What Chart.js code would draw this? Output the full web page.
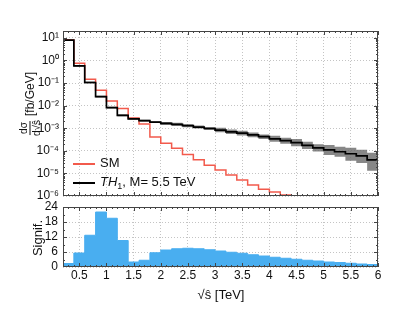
<!DOCTYPE html>
<html>
<head>
<meta charset="utf-8">
<script src="https://cdn.jsdelivr.net/npm/chart.js@4.4.1/dist/chart.umd.min.js"></script>
<style>
    html, body { margin: 0; padding: 0; background: #fff; }
    #wrap { position: relative; width: 420px; height: 315px; font-family: 'Liberation Sans', Arial, sans-serif; color: #111; }
    #top { position: absolute; left: 0; top: 0; }
    #bot { position: absolute; left: 0; top: 200px; }
    .legend { position: absolute; left: 73px; font-size: 13px; line-height: 16px; white-space: nowrap; }
    .legend .swatch { display: inline-block; width: 22px; height: 2px; vertical-align: middle; margin-right: 5px; }
    .legend sub { font-size: 9px; line-height: 0; vertical-align: -3px; }
    .title { position: absolute; white-space: nowrap; font-size: 12px; line-height: 13px; display: flex; align-items: center; }
    .rot { transform: translate(-50%, -50%) rotate(-90deg); }
    .hor { transform: translate(-50%, -50%); }
    .frac { display: inline-flex; flex-direction: column; align-items: center; font-size: 10px; line-height: 10px; margin-right: 4px; }
    .frac .num { border-bottom: 0.8px solid #111; padding: 0 1px 1px; }
    .frac .den { padding-top: 1px; }
</style>
</head>
<body>
<div id="wrap">
    <canvas id="top" width="420" height="200"></canvas>
    <canvas id="bot" width="420" height="115"></canvas>
    <div class="legend" style="top:155px"><span class="swatch" style="background:#f25a4c"></span>SM</div>
    <div class="legend" style="top:174px"><span class="swatch" style="background:#000"></span><i>TH</i><sub>1</sub>, M= 5.5 TeV</div>
    <div class="title rot" style="left:30px; top:104px"><span class="frac"><span class="num">dσ</span><span class="den">d√ŝ</span></span>[fb/GeV]</div>
    <div class="title rot" style="left:37px; top:238px; font-size:13px">Signif.</div>
    <div class="title hor" style="left:221px; top:294px; font-size:13px">√ŝ [TeV]</div>
</div>
<script>
// bin edges in sqrt(s) [TeV]
const binEdges = [0.2, 0.4, 0.6, 0.8, 1.0, 1.2, 1.4, 1.6, 1.8, 2.0, 2.2, 2.4, 2.6, 2.8, 3.0,
                  3.2, 3.4, 3.6, 3.8, 4.0, 4.2, 4.4, 4.6, 4.8, 5.0, 5.2, 5.4, 5.6, 5.8, 6.0];

// dsigma/dsqrt(s) [fb/GeV], one value per bin
const smXsec = [8.0, 0.74, 0.148, 0.048, 0.016, 7.4e-3, 2.8e-3, 1.54e-3, 4.1e-4, 2.15e-4,
                1.29e-4, 6.9e-5, 4.0e-5, 2.3e-5, 1.43e-5, 8.6e-6, 5.1e-6, 3.1e-6, 2.0e-6, 1.5e-6,
                1.1e-6, 7e-7, 5e-7, 3.5e-7, 2.5e-7, 1.8e-7, 1.3e-7, 9e-8, 6e-8];
const th1Xsec = [7.9, 0.575, 0.105, 0.025, 8.1e-3, 3.7e-3, 2.6e-3, 2.15e-3, 1.86e-3, 1.63e-3,
                 1.48e-3, 1.29e-3, 1.12e-3, 9.7e-4, 8.3e-4, 6.9e-4, 6.1e-4, 5.1e-4, 4.2e-4, 3.4e-4,
                 2.8e-4, 2.3e-4, 1.74e-4, 1.35e-4, 1.09e-4, 9.1e-5, 7.4e-5, 6.0e-5, 4.0e-5];
const th1Upper = [8.7, 0.63, 0.116, 0.0275, 8.9e-3, 4.1e-3, 2.9e-3, 2.37e-3, 2.05e-3, 1.9e-3,
                  1.73e-3, 1.51e-3, 1.31e-3, 1.13e-3, 1.05e-3, 8.7e-4, 7.7e-4, 6.4e-4, 5.3e-4, 4.6e-4,
                  3.8e-4, 3.3e-4, 2.5e-4, 1.96e-4, 1.82e-4, 1.52e-4, 1.37e-4, 1.11e-4, 8.2e-5];
const th1Lower = [7.2, 0.52, 0.095, 0.0227, 7.4e-3, 3.4e-3, 2.36e-3, 1.95e-3, 1.69e-3, 1.39e-3,
                  1.26e-3, 1.10e-3, 9.6e-4, 8.3e-4, 6.6e-4, 5.5e-4, 4.8e-4, 4.0e-4, 3.3e-4, 2.5e-4,
                  2.06e-4, 1.59e-4, 1.2e-4, 9.3e-5, 6.5e-5, 5.4e-5, 3.6e-5, 2.9e-5, 1.3e-5];

// significance per bin
const signif = [1.4, 5.6, 12.7, 22, 19.5, 10.6, 2.0, 2.7, 5.7, 6.8,
                7.3, 7.5, 7.3, 6.9, 6.4, 5.9, 5.5, 4.9, 4.4, 3.9,
                3.5, 3.1, 2.7, 2.4, 2.0, 1.8, 1.5, 1.2, 1.0];

const xTickVals = [0.5, 1, 1.5, 2, 2.5, 3, 3.5, 4, 4.5, 5, 5.5, 6];
const xTickText = ['0.5', '1', '1.5', '2', '2.5', '3', '3.5', '4', '4.5', '5', '5.5', '6'];
const yTickVals = [1e-6, 1e-5, 1e-4, 1e-3, 1e-2, 1e-1, 1, 10];
const yTickText = ['10⁻⁶', '10⁻⁵', '10⁻⁴', '10⁻³', '10⁻²', '10⁻¹', '10⁰', '10¹'];
const sTickVals = [0, 6, 12, 18, 24];
const sTickText = ['0', '6', '12', '18', '24'];

const FONT = "'Liberation Sans', Arial, sans-serif";
const gridColor = '#c4c4c4';

// histogram as step line: one point per edge, last value repeated on the closing edge
function steps(vals) {
    return binEdges.map((x, i) => ({ x: x, y: vals[Math.min(i, vals.length - 1)] }));
}

// frame + small inward tick marks on all four sides
const frameTicks = {
    id: 'frameTicks',
    afterDraw(chart, args, opts) {
        const { ctx, chartArea: a, scales: { x, y } } = chart;
        ctx.save();
        ctx.strokeStyle = '#444';
        ctx.lineWidth = 1;
        ctx.beginPath();
        const hTick = (v, len) => {
            const p = Math.round(x.getPixelForValue(v)) + 0.5;
            ctx.moveTo(p, a.bottom); ctx.lineTo(p, a.bottom - len);
            ctx.moveTo(p, a.top); ctx.lineTo(p, a.top + len);
        };
        const vTick = (v, len) => {
            const p = Math.round(y.getPixelForValue(v)) + 0.5;
            if (p < a.top || p > a.bottom) return;
            ctx.moveTo(a.left, p); ctx.lineTo(a.left + len, p);
            ctx.moveTo(a.right, p); ctx.lineTo(a.right - len, p);
        };
        for (let k = 3; k <= 60; k++) hTick(k / 10, k % 5 === 0 ? 4 : 2);
        opts.yMajor.forEach(v => vTick(v, 4));
        opts.yMinor.forEach(v => vTick(v, 2));
        ctx.stroke();
        ctx.strokeRect(Math.round(a.left) + 0.5, Math.round(a.top) + 0.5,
                       Math.round(a.right - a.left) - 1, Math.round(a.bottom - a.top) - 1);
        ctx.restore();
    }
};

const logMinor = [];
for (let e = -6; e <= 1; e++) for (let m = 2; m <= 9; m++) logMinor.push(m * Math.pow(10, e));

const stepLine = { stepped: 'before', pointRadius: 0, fill: false };

// keep the plot area fixed: no extra room reserved for edge labels
const fixY = s => { s.width = 63; s.paddingTop = 0; s.paddingBottom = 0; };

new Chart(document.getElementById('top'), {
    type: 'line',
    data: {
        datasets: [
            { ...stepLine, label: 'band low', data: steps(th1Lower), borderWidth: 0, order: 3 },
            { ...stepLine, label: 'band high', data: steps(th1Upper), borderWidth: 0, order: 2,
              fill: '-1', backgroundColor: 'rgba(105,105,105,0.8)' },
            { ...stepLine, label: 'SM', data: steps(smXsec), borderColor: '#f25a4c', borderWidth: 1.5, order: 1 },
            { ...stepLine, label: 'TH1, M= 5.5 TeV', data: steps(th1Xsec), borderColor: '#000', borderWidth: 1.7, order: 0 }
        ]
    },
    options: {
        responsive: false,
        animation: false,
        layout: { padding: { top: 31, right: 42, bottom: 4, left: 0 } },
        plugins: {
            legend: { display: false },
            tooltip: { enabled: false },
            frameTicks: { yMajor: yTickVals, yMinor: logMinor }
        },
        scales: {
            x: {
                type: 'linear', min: 0.2, max: 6,
                afterBuildTicks: s => { s.ticks = xTickVals.map(v => ({ value: v })); },
                afterFit: s => { s.height = 0; s.paddingLeft = 0; s.paddingRight = 0; },
                ticks: { display: false },
                grid: { color: gridColor, drawTicks: false },
                border: { display: false, dash: [1, 2] }
            },
            y: {
                type: 'logarithmic', min: 1e-6, max: 20,
                afterBuildTicks: s => { s.ticks = yTickVals.map(v => ({ value: v })); },
                afterFit: fixY,
                ticks: {
                    padding: 4, color: '#111', autoSkip: false, font: { family: FONT, size: 12 },
                    callback: (v, i) => yTickText[i]
                },
                grid: { color: gridColor, drawTicks: false },
                border: { display: false, dash: [1, 2] }
            }
        }
    },
    plugins: [frameTicks]
});

new Chart(document.getElementById('bot'), {
    type: 'line',
    data: {
        datasets: [
            { ...stepLine, label: 'Signif.', data: steps(signif), borderColor: '#49aef0', borderWidth: 1,
              fill: 'origin', backgroundColor: '#49aef0' }
        ]
    },
    options: {
        responsive: false,
        animation: false,
        layout: { padding: { top: 7, right: 42, bottom: 0, left: 0 } },
        plugins: {
            legend: { display: false },
            tooltip: { enabled: false },
            frameTicks: { yMajor: sTickVals, yMinor: [3, 9, 15, 21] }
        },
        scales: {
            x: {
                type: 'linear', min: 0.2, max: 6,
                afterBuildTicks: s => { s.ticks = xTickVals.map(v => ({ value: v })); },
                afterFit: s => { s.height = 48; s.paddingLeft = 0; s.paddingRight = 0; },
                ticks: {
                    padding: 1, color: '#111', maxRotation: 0, autoSkip: false, font: { family: FONT, size: 12 },
                    callback: (v, i) => xTickText[i]
                },
                grid: { color: gridColor, drawTicks: false },
                border: { display: false, dash: [1, 2] }
            },
            y: {
                type: 'linear', min: 0, max: 24,
                afterBuildTicks: s => { s.ticks = sTickVals.map(v => ({ value: v })); },
                afterFit: fixY,
                ticks: {
                    padding: 5, color: '#111', autoSkip: false, font: { family: FONT, size: 12 },
                    callback: (v, i) => sTickText[i]
                },
                grid: { color: gridColor, drawTicks: false },
                border: { display: false, dash: [1, 2] }
            }
        }
    },
    plugins: [frameTicks]
});
</script>
</body>
</html>
